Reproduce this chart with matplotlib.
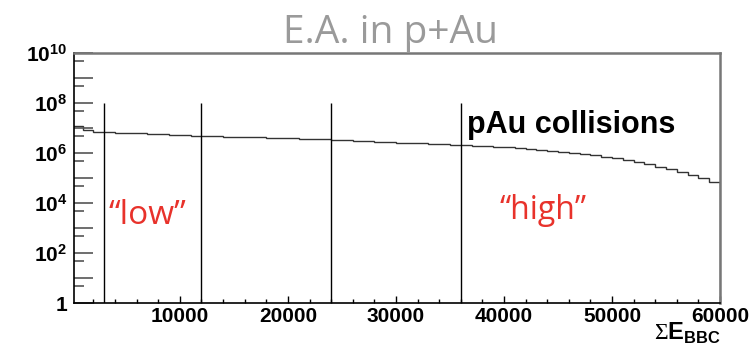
import numpy as np
import matplotlib
matplotlib.use('Agg')
import matplotlib.pyplot as plt
from matplotlib.ticker import FixedLocator, NullFormatter

plt.rcParams['mathtext.fontset'] = 'custom'
plt.rcParams['mathtext.rm'] = 'Liberation Serif'
plt.rcParams['mathtext.bf'] = 'Liberation Sans:bold'

# sum of BBC energy, 1000-wide bins, counts per bin
bin_edges = np.arange(0, 60001, 1000)
counts = [1.17e7, 8.71e6, 7.24e6, 6.76e6, 6.46e6, 6.31e6, 6.03e6, 5.75e6, 5.56e6, 5.37e6,
          5.13e6, 4.95e6, 4.79e6, 4.68e6, 4.57e6, 4.47e6, 4.37e6, 4.27e6, 4.07e6, 3.98e6,
          3.89e6, 3.80e6, 3.63e6, 3.47e6, 3.39e6, 3.24e6, 3.16e6, 3.02e6, 2.88e6, 2.75e6,
          2.63e6, 2.51e6, 2.40e6, 2.34e6, 2.24e6, 2.14e6, 2.04e6, 1.95e6, 1.86e6, 1.78e6,
          1.66e6, 1.55e6, 1.45e6, 1.35e6, 1.23e6, 1.12e6, 1.02e6, 9.12e5, 8.13e5, 7.08e5,
          6.17e5, 5.25e5, 4.37e5, 3.55e5, 2.88e5, 2.29e5, 1.74e5, 1.32e5, 1.02e5, 6.61e4]

# class boundaries
cuts = [3000, 12000, 24000, 36000]
cut_top = 1e8

xticks = [10000, 20000, 30000, 40000, 50000, 60000]
ytick_labels = ['1', '', r'$\mathbf{10^{2}}$', '', r'$\mathbf{10^{4}}$', '',
                r'$\mathbf{10^{6}}$', '', r'$\mathbf{10^{8}}$', '', r'$\mathbf{10^{10}}$']

fig = plt.figure(figsize=(7.49, 3.48), dpi=100)
ax = fig.add_axes([0.0988, 0.1293, 0.8625, 0.7184])

ax.stairs(counts, bin_edges, color='#333333', lw=1.0)
ax.vlines(cuts, 1, cut_top, color='black', lw=1.0)

ax.set_yscale('log')
ax.set_xlim(200, 60000)
ax.set_ylim(1, 1e10)

# ROOT-like ticks: long at every decade, short at 5x10^n
ax.yaxis.set_major_locator(FixedLocator([10.0**k for k in range(0, 11)]))
ax.yaxis.set_minor_locator(FixedLocator([5 * 10.0**k for k in range(0, 10)]))
ax.set_yticklabels(ytick_labels)
ax.yaxis.set_minor_formatter(NullFormatter())
ax.tick_params(axis='y', which='major', direction='in', length=14, width=1.2,
               color='#555555', pad=5, labelsize=15)
ax.tick_params(axis='y', which='minor', direction='in', length=7, width=1.2,
               color='#555555')

ax.xaxis.set_major_locator(FixedLocator(xticks))
ax.xaxis.set_minor_locator(FixedLocator(list(range(2000, 60000, 2000))))
ax.tick_params(axis='x', which='major', direction='in', length=5, width=1.0,
               pad=3, labelsize=15)
ax.tick_params(axis='x', which='minor', direction='in', length=3, width=1.0)
for lab in ax.get_xticklabels() + ax.get_yticklabels():
    lab.set_fontfamily('Liberation Sans')
    lab.set_fontweight('bold')

for side in ['top', 'right']:
    ax.spines[side].set_color('#777777')
    ax.spines[side].set_linewidth(1.8)
for side in ['left', 'bottom']:
    ax.spines[side].set_color('black')
    ax.spines[side].set_linewidth(1.2)

ax.text(0.608, 0.712, 'pAu collisions', transform=ax.transAxes, ha='left', va='center',
        fontsize=22, fontweight='bold', family='Liberation Sans', color='black')
ax.text(0.053, 0.352, '\u201clow\u201d', transform=ax.transAxes, ha='left', va='center',
        fontsize=24, family='Open Sans', color='#e8322b')
ax.text(0.659, 0.372, '\u201chigh\u201d', transform=ax.transAxes, ha='left', va='center',
        fontsize=23, family='Open Sans', color='#e8322b')

fig.text(0.522, 0.905, 'E.A. in p+Au', ha='center', va='center', fontsize=28,
         family='Open Sans', color='#9a9a9a')
fig.text(0.962, 0.024, r'$\Sigma\mathbf{E}_{\mathbf{BBC}}$', ha='right', va='baseline',
         fontsize=17)

fig.savefig('out.png', dpi=100)
